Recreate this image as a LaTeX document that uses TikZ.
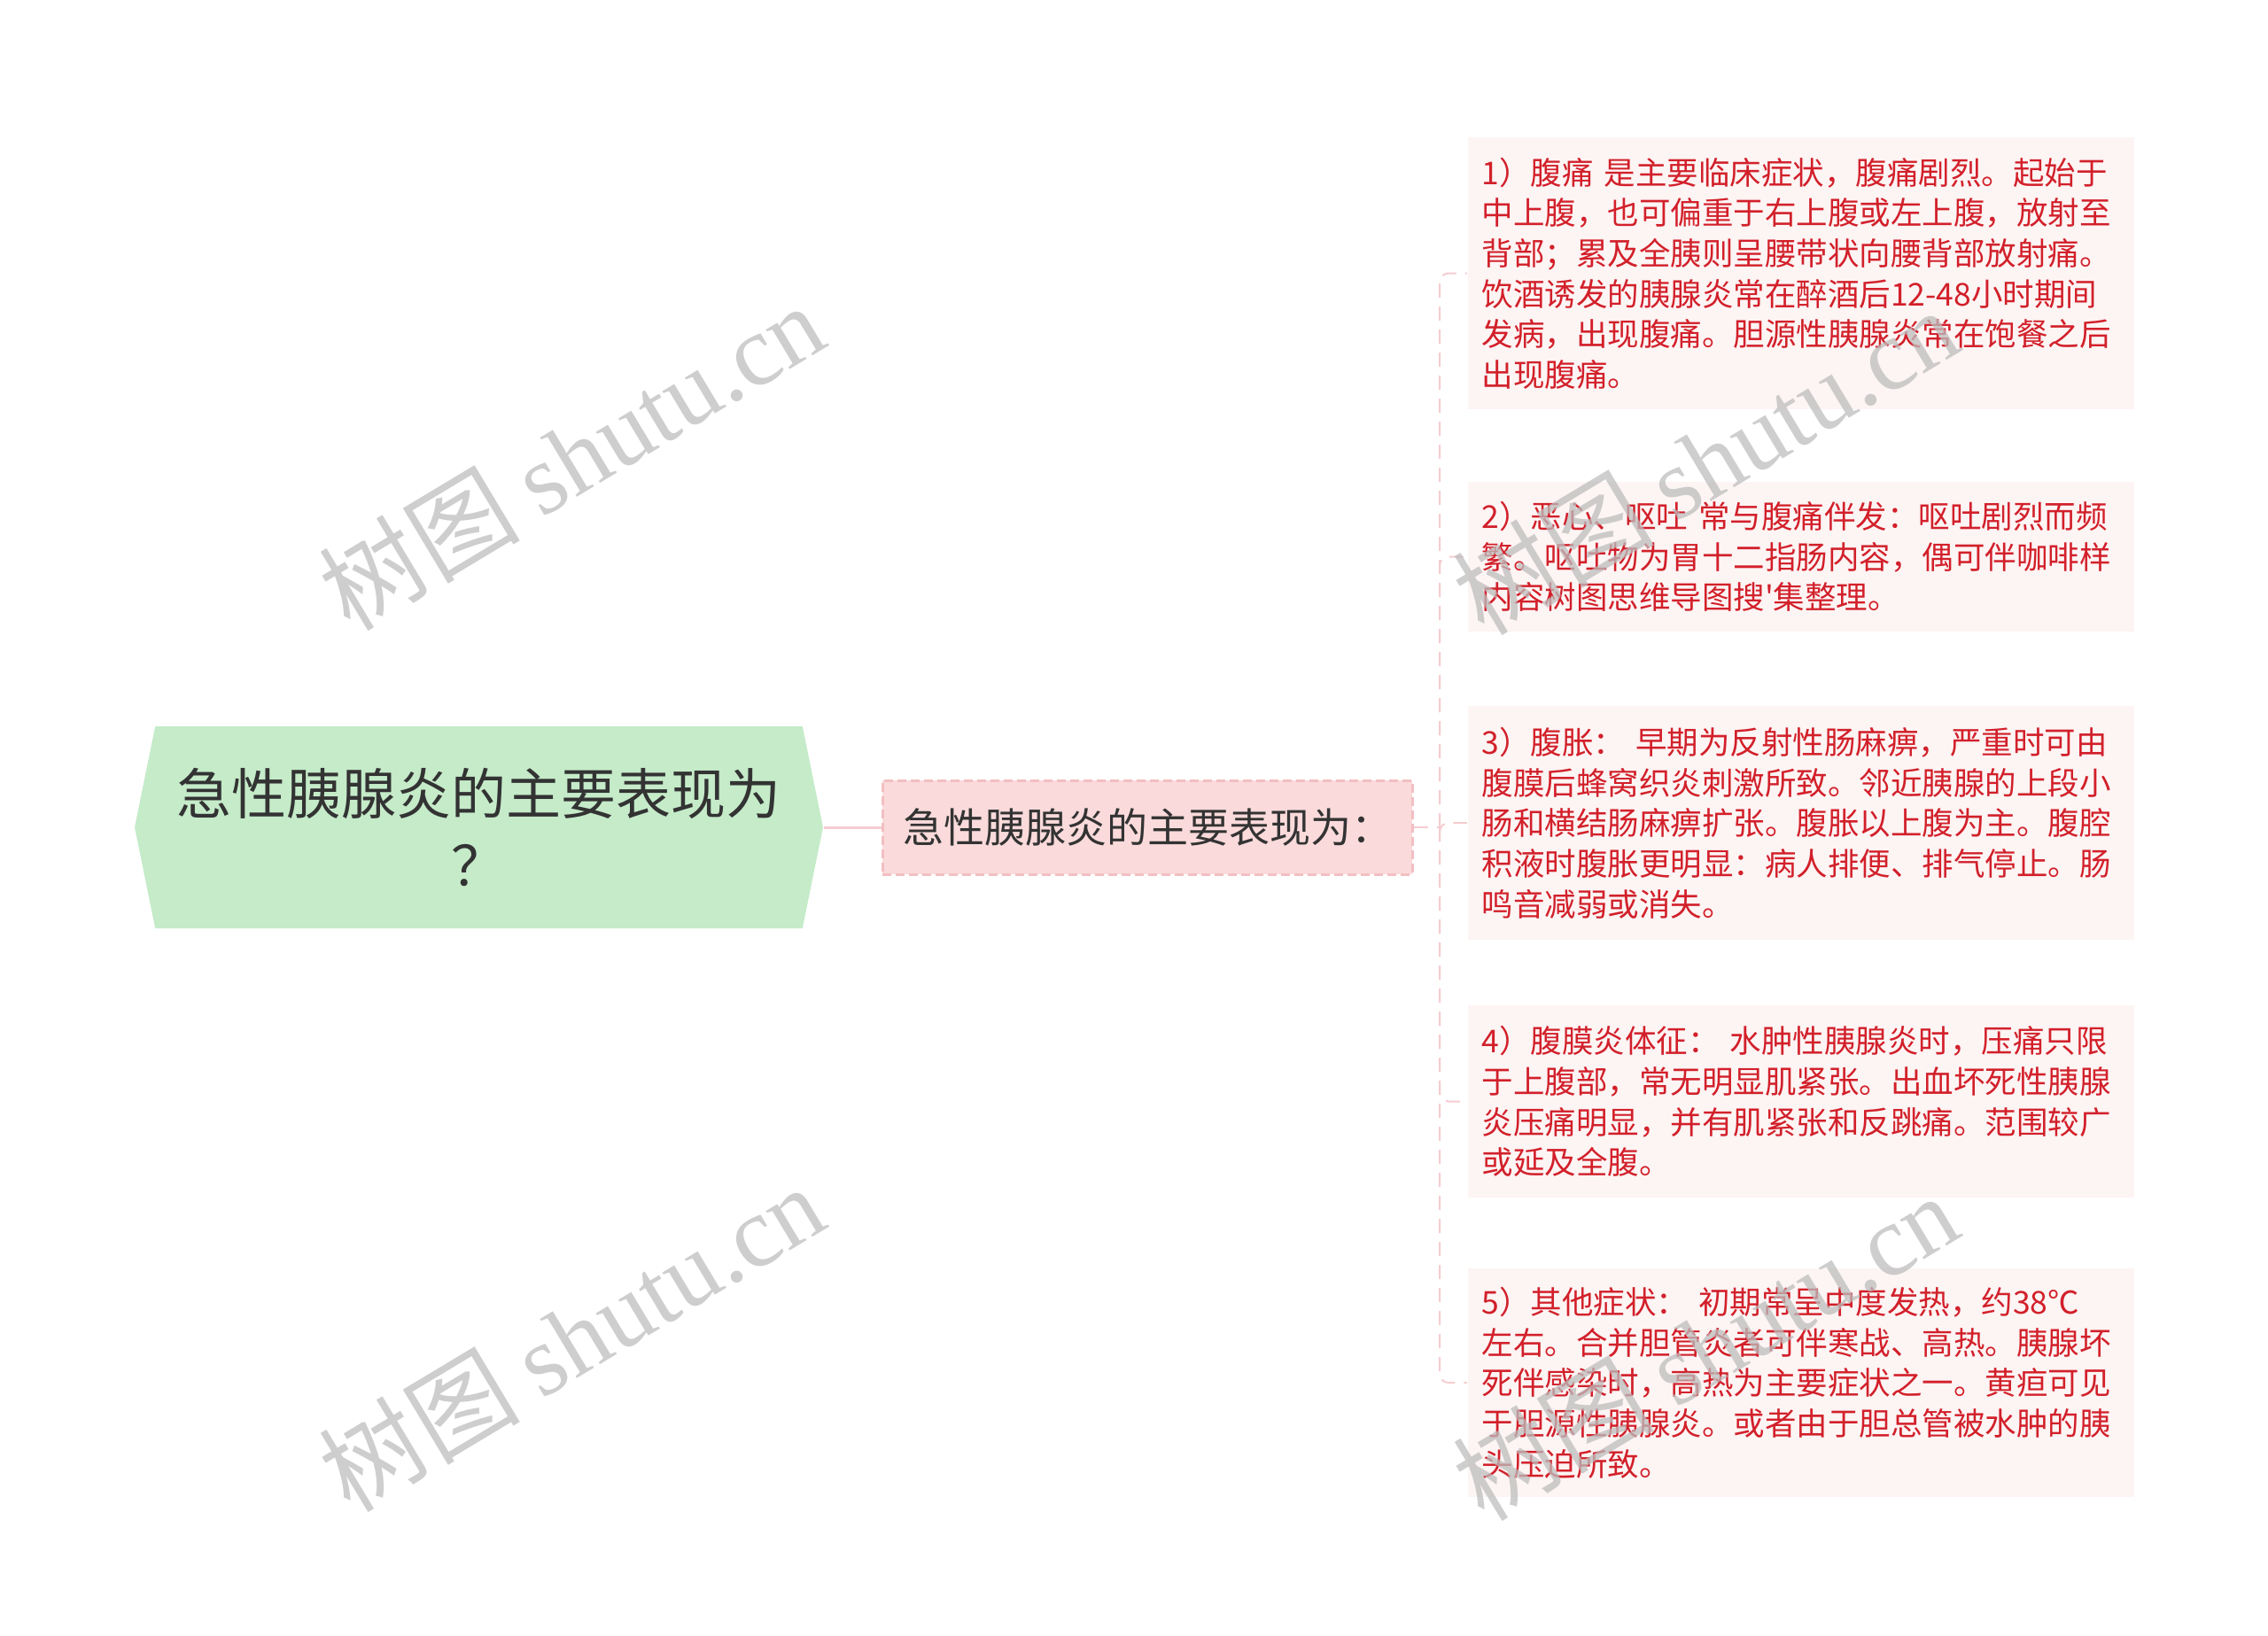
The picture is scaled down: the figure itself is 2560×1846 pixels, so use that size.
\documentclass[tikz,border=0pt]{standalone}
\usepackage{fontspec}
\setmainfont{Noto Sans CJK SC}[Ligatures=TeXOff]
\newfontfamily\wmfont{Liberation Serif}
\usetikzlibrary{shapes.symbols, positioning}

\definecolor{rootgreen}{HTML}{C5EBC9}
\definecolor{inkdark}{HTML}{333333}
\definecolor{topicpink}{HTML}{FADADB}
\definecolor{topicedge}{HTML}{F2BFC2}
\definecolor{linkpink}{HTML}{F5CDD0}
\definecolor{notefill}{HTML}{FDF4F4}
\definecolor{notered}{HTML}{D2202A}
\definecolor{wmgray}{HTML}{BDBDBD}

\begin{document}
\begin{tikzpicture}[
    x=0.3pt, y=-0.3pt,
    root/.style={signal, signal to=west and east, signal pointer angle=157,
        fill=rootgreen, text=inkdark, minimum width=233.1pt, minimum height=68.4pt,
        inner sep=0pt, align=center, font=\fontsize{18.6pt}{24.5pt}\selectfont},
    topic/.style={rectangle, fill=topicpink, draw=topicedge, line width=0.9pt,
        dash pattern=on 3pt off 1.5pt, text=inkdark, minimum width=179.4pt,
        minimum height=31.8pt, font=\fontsize{13.8pt}{15pt}\selectfont},
    note/.style={rectangle, fill=notefill, text=notered, text width=216pt,
        inner xsep=4.8pt, inner ysep=0pt, align=left,
        font=\fontsize{10.65pt}{13.7pt}\selectfont},
    link/.style={draw=linkpink, line width=0.9pt},
    spoke/.style={draw=linkpink, line width=0.6pt, dash pattern=on 4.8pt off 3pt,
        rounded corners=3pt},
    watermark/.style={rotate=31, text=wmgray, opacity=0.75,
        font=\fontsize{34pt}{34pt}\selectfont}
]
    \useasboundingbox (0,0) rectangle (2560,1846);

    % Central topic
    \node[root] (root) at (540.5, 934) {急性胰腺炎的主要表现为\\？};

    % Main branch
    \node[topic, right=19.5pt of root] (mid) {急性胰腺炎的主要表现为：};

    % Details
    \node[note, minimum height=92.1pt] (n1) at (2032.5, 308.5) {%
        1）腹痛 是主要临床症状，腹痛剧烈。起始于\\
        中上腹，也可偏重于右上腹或左上腹，放射至\\
        背部；累及全胰则呈腰带状向腰背部放射痛。\\
        饮酒诱发的胰腺炎常在醉酒后12-48小时期间\\
        发病，出现腹痛。胆源性胰腺炎常在饱餐之后\\
        出现腹痛。};
    \node[note, minimum height=50.7pt] (n2) at (2032.5, 628.5) {%
        2）恶心、呕吐 常与腹痛伴发：呕吐剧烈而频\\
        繁。呕吐物为胃十二指肠内容，偶可伴咖啡样\\
        内容树图思维导图搜'集整理。};
    \node[note, minimum height=79.2pt] (n3) at (2032.5, 929) {%
        3）腹胀： 早期为反射性肠麻痹，严重时可由\\
        腹膜后蜂窝织炎刺激所致。邻近胰腺的上段小\\
        肠和横结肠麻痹扩张。腹胀以上腹为主。腹腔\\
        积液时腹胀更明显：病人排便、排气停止。肠\\
        鸣音减弱或消失。};
    \node[note, minimum height=65.1pt] (n4) at (2032.5, 1243.5) {%
        4）腹膜炎体征： 水肿性胰腺炎时，压痛只限\\
        于上腹部，常无明显肌紧张。出血坏死性胰腺\\
        炎压痛明显，并有肌紧张和反跳痛。范围较广\\
        或延及全腹。};
    \node[note, minimum height=77.4pt] (n5) at (2032.5, 1561) {%
        5）其他症状： 初期常呈中度发热，约38℃\\
        左右。合并胆管炎者可伴寒战、高热。胰腺坏\\
        死伴感染时，高热为主要症状之一。黄疸可见\\
        于胆源性胰腺炎。或者由于胆总管被水肿的胰\\
        头压迫所致。};

    % Connectors
    \coordinate (fork) at (1625, 934);
    \draw[link] (root.east) -- (mid.west);
    \draw[spoke] (mid.east) -- (fork);
    \foreach \n in {n1, n2, n3, n4, n5}
        \draw[spoke] (fork) |- (\n.west);

    % Watermarks
    \foreach \wx/\wy in {645/515, 645/1510, 1925/520, 1925/1520}
        \node[watermark] at (\wx, \wy) {树图 {\wmfont shutu.cn}};
\end{tikzpicture}
\end{document}
